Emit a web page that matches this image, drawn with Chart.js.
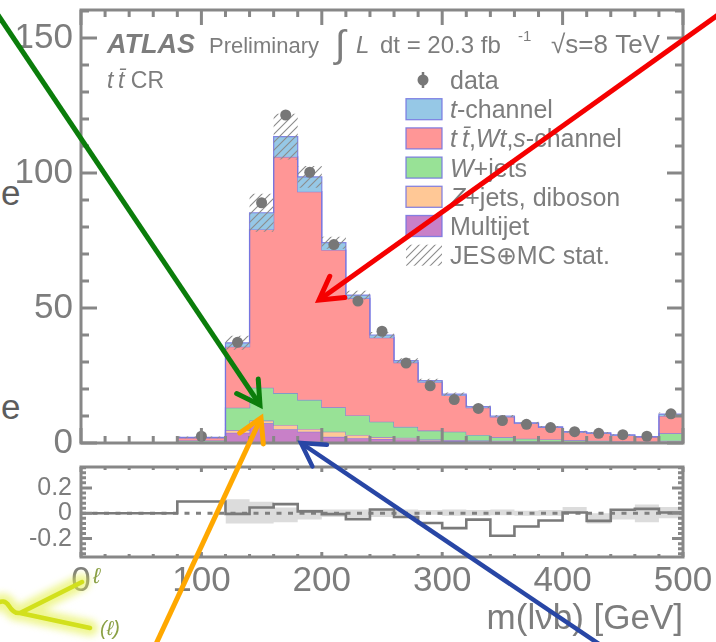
<!DOCTYPE html>
<html>
<head>
<meta charset="utf-8">
<title>m(lvb) in the ttbar control region</title>
<script src="https://cdn.jsdelivr.net/npm/chart.js@4.4.1/dist/chart.umd.min.js"></script>
<style>
  html, body { margin: 0; padding: 0; background: #fff; }
  #wrap { position: relative; width: 716px; height: 642px; overflow: hidden; background: #fff; }
  #mainChart { position: absolute; left: 0; top: 0; }
  #ratioChart { position: absolute; left: 0; top: 455px; }
  #overlay { position: absolute; left: 0; top: 0; }
  .frag { position: absolute; font: 35px "Liberation Sans", Arial, sans-serif; color: #5c5c5c; line-height: 1; }
</style>
</head>
<body>
<div id="wrap">
  <div class="frag" style="left:1px;top:175px">e</div>
  <div class="frag" style="left:1px;top:389px">e</div>
  <canvas id="mainChart" width="716" height="460"></canvas>
  <canvas id="ratioChart" width="716" height="187"></canvas>
  <svg id="overlay" width="716" height="642"></svg>
</div>
<script>
// m(lvb) bins [GeV], the first one is 40 GeV wide
const binEdges = [80, 120, 140, 160, 180, 200, 220, 240, 260, 280, 300, 320, 340, 360, 380, 400, 420, 440, 460, 480, 500];

// expected events per bin, one array per process (bottom of the stack first)
const multijet     = [0.1, 3.8, 7.3, 5.1, 4.2, 2.3, 1.8, 1.5, 1.3, 0.9, 0.7, 0.6, 0.5, 0.4, 0.4, 0.3, 0.3, 0.2, 0.2, 0.5];
const zjetsDiboson = [0.2, 1.0, 1.0, 1.6, 1.0, 1.9, 1.2, 0.7, 0.6, 0.4, 0.4, 0.3, 0.3, 0.2, 0.1, 0.1, 0.1, 0.1, 0.1, 0.3];
const wjets        = [0.6, 8.3, 12.2, 11.8, 10.8, 9.0, 7.2, 5.7, 4.1, 3.3, 3.1, 2.1, 1.3, 1.0, 0.8, 0.6, 0.4, 0.3, 0.2, 2.8];
const ttbarWtS     = [1.0, 22.6, 58.6, 87.5, 77.1, 58.3, 43.4, 31.1, 23.8, 17.9, 13.4, 10.1, 7.6, 5.7, 4.5, 3.0, 2.8, 2.2, 1.7, 6.4];
const tchannel     = [0.2, 1.4, 6.2, 7.5, 5.5, 2.7, 1.2, 1.0, 0.7, 0.6, 0.5, 0.4, 0.3, 0.2, 0.2, 0.2, 0.2, 0.2, 0.2, 0.7];

// observed events and the JES+MC stat. band half width
const dataCounts = [2.5, 37.3, 89.0, 121.5, 100.3, 73.5, 52.6, 41.4, 29.6, 21.2, 16.1, 12.8, 8.3, 6.9, 5.7, 4.2, 3.6, 3.1, 2.5, 10.8];
const jesMcUnc   = [0.3, 2.6, 7.0, 8.5, 4.0, 2.2, 1.6, 1.1, 0.9, 0.7, 0.6, 0.5, 0.4, 0.4, 0.3, 0.3, 0.3, 0.2, 0.2, 0.6];

// lower panel: relative difference data vs prediction
const ratioEdges  = [0, 80, 120, 140, 160, 180, 200, 220, 240, 260, 280, 300, 320, 340, 360, 380, 400, 420, 440, 460, 480, 500];
const ratioValues = [0, 0.093, -0.005, 0.046, 0.072, 0.015, -0.007, -0.046, 0.03, -0.03, -0.077, -0.117, -0.05, -0.177, -0.104, -0.057, 0.006, -0.06, 0.028, 0.035, 0.006];
const bandEdges   = [120, 140, 160, 180, 200, 220, 240, 260, 280, 300, 320, 340, 360, 380, 400, 420, 440, 460, 480, 500];
const bandUp      = [0.11, 0.09, 0.045, 0.03, 0.03, 0.03, 0.03, 0.03, 0.025, 0.03, 0.025, 0.03, 0.02, 0.025, 0.05, 0.0, 0.03, 0.07, 0.05];
const bandDown    = [-0.08, -0.08, -0.07, -0.05, -0.03, -0.03, -0.03, -0.02, -0.012, -0.02, -0.02, -0.015, -0.02, -0.02, 0.0, -0.08, -0.05, -0.07, -0.04];

// axis ticks
const xTickValues = [0, 100, 200, 300, 400, 500];
const yTickValues = [0, 50, 100, 150];
const ratioTickValues = [-0.2, 0, 0.2];
const ratioTickLabels = ['-0.2', '0', '0.2'];

const FONT = '"Liberation Sans", Arial, sans-serif';
const textGrey = '#7d7d7d';
const frameGrey = '#878787';
const outline = 'rgba(115,115,225,0.85)';

Chart.defaults.font.family = FONT;

// running sums for the stack
function stackUp(layers) {
    const out = [];
    let run = layers[0].map(() => 0);
    layers.forEach(l => {
        run = run.map((v, i) => v + l[i]);
        out.push(run);
    });
    return out;
}
const [mjTop, zTop, wTop, ttTop, tTop] = stackUp([multijet, zjetsDiboson, wjets, ttbarWtS, tchannel]);

// histogram as step points (value holds until next edge)
function steps(edges, values, fromZero) {
    const pts = [];
    if (fromZero) pts.push({x: 0, y: 0});
    values.forEach((v, i) => pts.push({x: edges[i], y: v}));
    pts.push({x: edges[edges.length - 1], y: values[values.length - 1]});
    if (fromZero) pts.push({x: edges[edges.length - 1], y: 0});
    return pts;
}

const binCentres = dataCounts.map((_, i) => (binEdges[i] + binEdges[i + 1]) / 2);

function makeHatch() {
    const c = document.createElement('canvas');
    c.width = 8; c.height = 8;
    const g = c.getContext('2d');
    g.strokeStyle = '#8c8c8c';
    g.lineWidth = 1.1;
    g.beginPath();
    g.moveTo(0, 8); g.lineTo(8, 0);
    g.moveTo(-2, 2); g.lineTo(2, -2);
    g.moveTo(6, 10); g.lineTo(10, 6);
    g.stroke();
    return g.createPattern(c, 'repeat');
}
const hatch = makeHatch();

// frame with inward ticks on all four sides (ROOT style)
const framePlugin = {
    id: 'frame',
    afterDraw(chart, args, o) {
        const {ctx, chartArea: a, scales} = chart;
        const xs = scales.x, ys = scales.y;
        ctx.save();
        ctx.strokeStyle = frameGrey;
        ctx.lineWidth = o.lw;
        ctx.beginPath();
        const isMajor = (v, step) => Math.abs(v / step - Math.round(v / step)) < 1e-6;
        for (let k = Math.ceil(xs.min / o.xMinor - 1e-9); k * o.xMinor <= xs.max + 1e-9; k++) {
            const v = k * o.xMinor;
            const px = xs.getPixelForValue(v);
            const len = isMajor(v, o.xMajor) ? o.xLen[0] : o.xLen[1];
            ctx.moveTo(px, a.bottom); ctx.lineTo(px, a.bottom - len);
            ctx.moveTo(px, a.top); ctx.lineTo(px, a.top + len);
        }
        for (let k = Math.ceil(ys.min / o.yMinor - 1e-9); k * o.yMinor <= ys.max + 1e-9; k++) {
            const v = k * o.yMinor;
            const py = ys.getPixelForValue(v);
            const len = isMajor(v, o.yMajor) ? o.yLen[0] : o.yLen[1];
            ctx.moveTo(a.left, py); ctx.lineTo(a.left + len, py);
            ctx.moveTo(a.right, py); ctx.lineTo(a.right - len, py);
        }
        ctx.stroke();
        ctx.strokeRect(a.left, a.top, a.right - a.left, a.bottom - a.top);
        ctx.restore();
    }
};

function drawRuns(ctx, x, y, runs, size) {
    runs.forEach(([txt, style]) => {
        ctx.font = `${style} ${size}px ${FONT}`;
        ctx.fillText(txt, x, y);
        x += ctx.measureText(txt).width;
    });
    return x;
}

const legendRows = [
    {kind: 'data', runs: [['data', 'normal']]},
    {kind: 'box', color: '#96c8e6', runs: [['t', 'italic'], ['-channel', 'normal']]},
    {kind: 'box', color: '#ff9696', runs: [['t\u2009t\u0304', 'italic'], [',', 'normal'], ['Wt', 'italic'], [',', 'normal'], ['s', 'italic'], ['-channel', 'normal']]},
    {kind: 'box', color: '#98e296', runs: [['W', 'italic'], ['+jets', 'normal']]},
    {kind: 'box', color: '#ffc896', runs: [['Z', 'italic'], ['+jets, diboson', 'normal']]},
    {kind: 'box', color: '#c880c8', runs: [['Multijet', 'normal']]},
    {kind: 'hatch', runs: [['JES\u2295MC stat.', 'normal']]}
];

// ATLAS label, luminosity and legend inside the upper panel
const labelPlugin = {
    id: 'atlasLabels',
    afterDraw(chart) {
        const ctx = chart.ctx;
        ctx.save();
        ctx.fillStyle = textGrey;
        ctx.textBaseline = 'alphabetic';
        drawRuns(ctx, 107, 53, [['ATLAS', 'italic bold']], 27);
        drawRuns(ctx, 209, 53, [['Preliminary', 'normal']], 22);
        drawRuns(ctx, 335, 57, [['\u222B', 'normal']], 38);
        drawRuns(ctx, 356, 53, [['L', 'italic']], 24);
        drawRuns(ctx, 380, 53, [['dt = 20.3 fb', 'normal']], 24);
        drawRuns(ctx, 518, 41, [['-1', 'normal']], 15);
        drawRuns(ctx, 551, 53, [['\u221As=8 TeV', 'normal']], 26);
        drawRuns(ctx, 107, 88, [['t\u2009t\u0304', 'italic'], [' CR', 'normal']], 23);

        legendRows.forEach((row, i) => {
            const cy = 80 + i * 29.2;
            if (row.kind === 'data') {
                ctx.strokeStyle = '#777';
                ctx.lineWidth = 2.5;
                ctx.beginPath(); ctx.moveTo(423, cy - 8); ctx.lineTo(423, cy + 8); ctx.stroke();
                ctx.fillStyle = '#777';
                ctx.beginPath(); ctx.arc(423, cy, 5.5, 0, Math.PI * 2); ctx.fill();
            } else {
                ctx.fillStyle = row.kind === 'hatch' ? hatch : row.color;
                ctx.fillRect(406, cy - 10.5, 36, 21);
                if (row.kind === 'box') {
                    ctx.strokeStyle = outline;
                    ctx.lineWidth = 1.3;
                    ctx.strokeRect(406, cy - 10.5, 36, 21);
                }
            }
            ctx.fillStyle = textGrey;
            drawRuns(ctx, 450, cy + 9, row.runs, 25);
        });
        ctx.restore();
    }
};

const stepLine = {stepped: true, pointRadius: 0, borderColor: outline, borderWidth: 1.2};

new Chart(document.getElementById('mainChart'), {
    type: 'line',
    data: {
        datasets: [
            {label: 'data', data: binCentres.map((x, i) => ({x, y: dataCounts[i]})), showLine: false,
             pointRadius: 5.5, pointBackgroundColor: '#777', pointBorderWidth: 0},
            {label: 'unc low', data: steps(binEdges, tTop.map((v, i) => v - jesMcUnc[i]), false), stepped: true, pointRadius: 0, borderWidth: 0, fill: false},
            {label: 'unc high', data: steps(binEdges, tTop.map((v, i) => v + jesMcUnc[i]), false), stepped: true, pointRadius: 0, borderWidth: 0, fill: 1, backgroundColor: hatch},
            {...stepLine, label: 't-channel', data: steps(binEdges, tTop, true), fill: 4, backgroundColor: '#96c8e6'},
            {...stepLine, label: 'ttbar, Wt, s-channel', data: steps(binEdges, ttTop, true), fill: 5, backgroundColor: '#ff9696'},
            {...stepLine, label: 'W+jets', data: steps(binEdges, wTop, true), fill: 6, backgroundColor: '#98e296'},
            {...stepLine, label: 'Z+jets, diboson', data: steps(binEdges, zTop, true), fill: 7, backgroundColor: '#ffc896'},
            {...stepLine, label: 'Multijet', data: steps(binEdges, mjTop, true), fill: 'origin', backgroundColor: '#c880c8'}
        ]
    },
    options: {
        responsive: false,
        animation: false,
        devicePixelRatio: 1,
        layout: {padding: {left: 0, right: 33, top: 10, bottom: 17}},
        scales: {
            x: {type: 'linear', min: 0, max: 500, display: false},
            y: {
                min: 0, max: 160.4,
                grid: {display: false, drawTicks: false},
                border: {display: false},
                afterBuildTicks: s => { s.ticks = yTickValues.map(v => ({value: v})); },
                afterFit: s => { s.width = 81; s.paddingTop = 0; s.paddingBottom = 0; },
                ticks: {color: textGrey, padding: 8, font: {size: 35}}
            }
        },
        plugins: {
            legend: {display: false},
            tooltip: {enabled: false},
            frame: {lw: 3, xMinor: 20, xMajor: 100, yMinor: 10, yMajor: 50, xLen: [15, 7], yLen: [16, 8]}
        }
    },
    plugins: [framePlugin, labelPlugin]
});

new Chart(document.getElementById('ratioChart'), {
    type: 'line',
    data: {
        datasets: [
            {label: 'ratio', data: steps(ratioEdges, ratioValues, false), stepped: true, pointRadius: 0, borderColor: '#7a7a7a', borderWidth: 2.6},
            {label: 'zero', data: [{x: 0, y: 0}, {x: 500, y: 0}], pointRadius: 0, borderColor: '#808080', borderWidth: 2.8, borderDash: [5, 6.5]},
            {label: 'band low', data: steps(bandEdges, bandDown, false), stepped: true, pointRadius: 0, borderWidth: 0, fill: false},
            {label: 'band high', data: steps(bandEdges, bandUp, false), stepped: true, pointRadius: 0, borderWidth: 0, fill: 2, backgroundColor: '#dcdcdc'}
        ]
    },
    options: {
        responsive: false,
        animation: false,
        devicePixelRatio: 1,
        layout: {padding: {left: 0, right: 33, top: 12, bottom: 0}},
        scales: {
            x: {
                type: 'linear', min: 0, max: 500,
                grid: {display: false, drawTicks: false},
                border: {display: false},
                afterBuildTicks: s => { s.ticks = xTickValues.map(v => ({value: v})); },
                afterFit: s => { s.height = 85; s.paddingLeft = 0; s.paddingRight = 0; },
                ticks: {color: textGrey, padding: 3, maxRotation: 0, autoSkip: false, font: {size: 35}},
                title: {display: true, text: 'm(l\u03BDb) [GeV]', align: 'end', color: textGrey,
                        font: {size: 35}, padding: {top: 0, bottom: 2}}
            },
            y: {
                min: -0.345, max: 0.365,
                grid: {display: false, drawTicks: false},
                border: {display: false},
                afterBuildTicks: s => { s.ticks = ratioTickValues.map(v => ({value: v})); },
                afterFit: s => { s.width = 81; s.paddingTop = 0; s.paddingBottom = 0; },
                ticks: {color: textGrey, padding: 9, font: {size: 25},
                        callback: (v, i) => ratioTickLabels[i]}
            }
        },
        plugins: {
            legend: {display: false},
            tooltip: {enabled: false},
            frame: {lw: 3, xMinor: 20, xMajor: 100, yMinor: 0.04, yMajor: 0.2, xLen: [5, 3], yLen: [11, 5]}
        }
    },
    plugins: [framePlugin]
});

// annotation arrows and the Feynman-diagram fragment on top of the plot
const svg = document.getElementById('overlay');
const NS = 'http://www.w3.org/2000/svg';
function add(parent, tag, attrs, text) {
    const el = document.createElementNS(NS, tag);
    for (const k in attrs) el.setAttribute(k, attrs[k]);
    if (text) el.textContent = text;
    parent.appendChild(el);
    return el;
}
const defs = add(svg, 'defs', {});
const filt = add(defs, 'filter', {id: 'glow', x: '-50%', y: '-50%', width: '200%', height: '200%'});
add(filt, 'feGaussianBlur', {stdDeviation: '3.5'});

const fragPath = 'M-4,604 Q4,598 9,606 Q14,614 20,613 L82,582 M20,613 L90,628';
add(svg, 'path', {d: fragPath, stroke: '#e4f04a', 'stroke-width': 16, fill: 'none', opacity: 0.6, filter: 'url(#glow)', 'stroke-linecap': 'round'});
add(svg, 'path', {d: fragPath, stroke: '#d2e01c', 'stroke-width': 4.5, fill: 'none', 'stroke-linecap': 'round'});
add(svg, 'text', {x: 93, y: 583, fill: '#8aa044', 'font-size': 22, 'font-style': 'italic', 'font-family': FONT}, '\u2113');
add(svg, 'text', {x: 100, y: 635, fill: '#8aa044', 'font-size': 20, 'font-style': 'italic', 'font-family': FONT}, '(\u2113)');

function arrowHead(tip, from, len, ang) {
    const dx = from[0] - tip[0], dy = from[1] - tip[1];
    const d = Math.hypot(dx, dy);
    const ux = dx / d, uy = dy / d;
    const arm = a => [tip[0] + len * (ux * Math.cos(a) - uy * Math.sin(a)),
                      tip[1] + len * (ux * Math.sin(a) + uy * Math.cos(a))];
    const p1 = arm(ang), p2 = arm(-ang);
    return `M${p1[0]},${p1[1]} L${tip[0]},${tip[1]} L${p2[0]},${p2[1]}`;
}
const arrows = [
    {from: [-2, 15], to: [260, 405], color: '#0b7d0b', w: 5},
    {from: [718, 15], to: [319, 300], color: '#f50000', w: 5},
    {from: [156, 644], to: [261, 418], color: '#ffa800', w: 5},
    {from: [599, 644], to: [301, 443], color: '#2846a5', w: 4.5}
];
arrows.forEach(a => {
    add(svg, 'line', {x1: a.from[0], y1: a.from[1], x2: a.to[0], y2: a.to[1], stroke: a.color, 'stroke-width': a.w});
    add(svg, 'path', {d: arrowHead(a.to, a.from, 26, Math.PI / 6), stroke: a.color, 'stroke-width': a.w, fill: 'none',
                      'stroke-linejoin': 'miter', 'stroke-linecap': 'round'});
});
</script>
</body>
</html>
